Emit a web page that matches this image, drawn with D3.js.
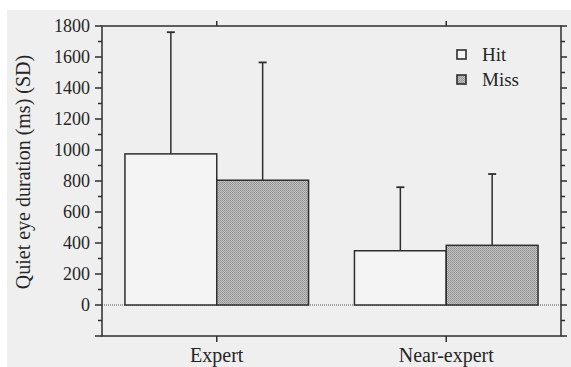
<!DOCTYPE html>
<html>
<head>
<meta charset="utf-8">
<script src="https://cdn.jsdelivr.net/npm/d3@7"></script>
<style>
  html, body { margin: 0; padding: 0; background: #fff; }
  svg { display: block; }
  text { font-family: "Liberation Serif", "DejaVu Serif", serif; fill: #262626; }
</style>
</head>
<body>
<div id="chart"></div>
<script>
// Quiet eye duration by skill level, hit vs miss (mean + SD)
const categories = ["Expert", "Near-expert"];
const series = ["Hit", "Miss"];
const hitMeans = [975, 350];
const hitSD = [785, 410];
const missMeans = [805, 385];
const missSD = [760, 460];
const yMajorTicks = [-200, 0, 200, 400, 600, 800, 1000, 1200, 1400, 1600, 1800];
const yTickLabels = ["", "0", "200", "400", "600", "800", "1000", "1200", "1400", "1600", "1800"];
const yMinorTicks = [-100, 100, 300, 500, 700, 900, 1100, 1300, 1500, 1700];

const W = 571, H = 367;
const plot = { left: 102, right: 561, top: 26, bottom: 336 };
const ink = "#2e2e2e";

const svg = d3.select("#chart").append("svg")
    .attr("width", W)
    .attr("height", H);

// scanned-page grey
svg.append("rect")
    .attr("x", 7).attr("y", 10)
    .attr("width", W - 7).attr("height", H - 10)
    .attr("fill", "#efefef");

// stipple pattern for Miss bars
const defs = svg.append("defs");
const pat = defs.append("pattern")
    .attr("id", "stipple")
    .attr("width", 2).attr("height", 2)
    .attr("patternUnits", "userSpaceOnUse");
pat.append("rect").attr("width", 2).attr("height", 2).attr("fill", "#c4c4c4");
pat.append("rect").attr("width", 1).attr("height", 1).attr("fill", "#8e8e8e");
pat.append("rect").attr("x", 1).attr("y", 1).attr("width", 1).attr("height", 1).attr("fill", "#9a9a9a");

const y = d3.scaleLinear()
    .domain([-200, 1800])
    .range([plot.bottom, plot.top]);

const x0 = d3.scaleBand()
    .domain(categories)
    .range([plot.left, plot.right])
    .padding(0);

const bw = x0.bandwidth();
const x1 = d3.scaleBand()
    .domain(series)
    .range([bw * 0.1, bw * 0.9])
    .padding(0);

const rows = [];
categories.forEach((c, i) => {
    rows.push({ cat: c, s: "Hit", mean: hitMeans[i], sd: hitSD[i] });
    rows.push({ cat: c, s: "Miss", mean: missMeans[i], sd: missSD[i] });
});
const fillOf = s => s === "Hit" ? "#f4f4f4" : "url(#stipple)";

// zero reference line (dotted)
svg.append("line")
    .attr("x1", plot.left).attr("x2", plot.right)
    .attr("y1", y(0)).attr("y2", y(0))
    .attr("stroke", "#555")
    .attr("stroke-width", 1.2)
    .attr("stroke-dasharray", "1,1");

// error bars (drawn before bars so the bar top covers the stem base)
const g = svg.append("g");
rows.forEach(d => {
    const cx = x0(d.cat) + x1(d.s) + x1.bandwidth() / 2;
    g.append("line")
        .attr("x1", cx).attr("x2", cx)
        .attr("y1", y(d.mean)).attr("y2", y(d.mean + d.sd))
        .attr("stroke", ink).attr("stroke-width", 1.5);
    g.append("line")
        .attr("x1", cx - 4).attr("x2", cx + 4)
        .attr("y1", y(d.mean + d.sd)).attr("y2", y(d.mean + d.sd))
        .attr("stroke", ink).attr("stroke-width", 1.8);
});

// bars
g.selectAll("rect.bar")
    .data(rows)
    .join("rect")
    .attr("class", "bar")
    .attr("x", d => x0(d.cat) + x1(d.s))
    .attr("y", d => y(d.mean))
    .attr("width", x1.bandwidth())
    .attr("height", d => y(0) - y(d.mean))
    .attr("fill", d => fillOf(d.s))
    .attr("stroke", ink)
    .attr("stroke-width", 1.5);

// frame
svg.append("rect")
    .attr("x", plot.left).attr("y", plot.top)
    .attr("width", plot.right - plot.left)
    .attr("height", plot.bottom - plot.top)
    .attr("fill", "none")
    .attr("stroke", ink)
    .attr("stroke-width", 1.5);

// y ticks, left and right, pointing outward
const yt = svg.append("g");
yMajorTicks.forEach((v, i) => {
    yt.append("line")
        .attr("x1", plot.left - 7).attr("x2", plot.left)
        .attr("y1", y(v)).attr("y2", y(v))
        .attr("stroke", ink).attr("stroke-width", 1.5);
    yt.append("line")
        .attr("x1", plot.right).attr("x2", plot.right + 6)
        .attr("y1", y(v)).attr("y2", y(v))
        .attr("stroke", ink).attr("stroke-width", 1.5);
    yt.append("text")
        .attr("x", plot.left - 12)
        .attr("y", y(v))
        .attr("dy", "0.34em")
        .attr("text-anchor", "end")
        .attr("font-size", "18px")
        .text(yTickLabels[i]);
});
yMinorTicks.forEach(v => {
    yt.append("line")
        .attr("x1", plot.left - 4).attr("x2", plot.left)
        .attr("y1", y(v)).attr("y2", y(v))
        .attr("stroke", ink).attr("stroke-width", 1.5);
    yt.append("line")
        .attr("x1", plot.right).attr("x2", plot.right + 4)
        .attr("y1", y(v)).attr("y2", y(v))
        .attr("stroke", ink).attr("stroke-width", 1.5);
});

// category ticks, top and bottom
categories.forEach(c => {
    const cx = x0(c) + bw / 2;
    svg.append("line")
        .attr("x1", cx).attr("x2", cx)
        .attr("y1", plot.bottom).attr("y2", plot.bottom + 6)
        .attr("stroke", ink).attr("stroke-width", 1.5);
    svg.append("line")
        .attr("x1", cx).attr("x2", cx)
        .attr("y1", plot.top - 5).attr("y2", plot.top)
        .attr("stroke", ink).attr("stroke-width", 1.5);
    svg.append("text")
        .attr("x", cx)
        .attr("y", plot.bottom + 26)
        .attr("text-anchor", "middle")
        .attr("font-size", "20px")
        .text(c);
});

// y axis title
svg.append("text")
    .attr("transform", `translate(30, 172) rotate(-90)`)
    .attr("text-anchor", "middle")
    .attr("font-size", "20px")
    .text("Quiet eye duration (ms) (SD)");

// legend
const legend = svg.append("g").attr("transform", "translate(457, 50)");
series.forEach((s, i) => {
    legend.append("rect")
        .attr("x", 0).attr("y", i * 25)
        .attr("width", 9).attr("height", 9)
        .attr("fill", fillOf(s))
        .attr("stroke", ink)
        .attr("stroke-width", 1.6);
    legend.append("text")
        .attr("x", 25)
        .attr("y", i * 25 + 11)
        .attr("font-size", "19px")
        .text(s);
});
</script>
</body>
</html>
